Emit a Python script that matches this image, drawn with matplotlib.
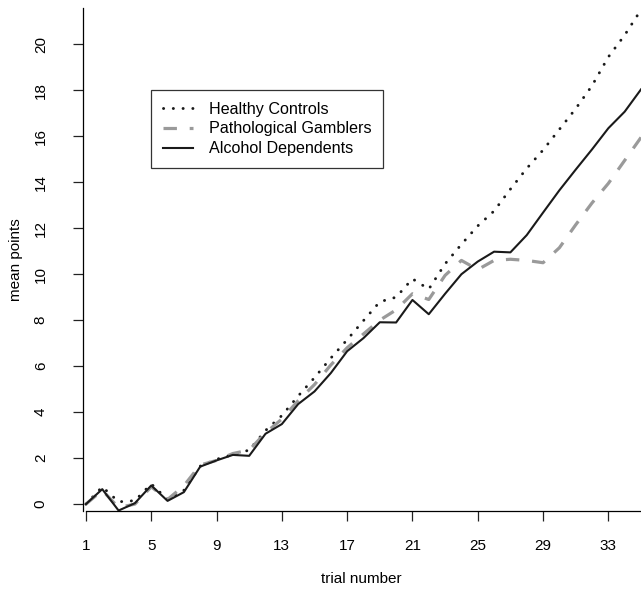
import numpy as np
import matplotlib
matplotlib.use("Agg")
import matplotlib.pyplot as plt


# ===================================================
# DATA
# ===================================================

trials = list(range(1, 36))

healthy = [0, 0.75, 0.1, 0.15, 0.88, 0.2, 0.6, 1.65, 1.95, 2.15,
           2.35, 3.2, 3.85, 4.7, 5.5, 6.35, 7.15, 7.98, 8.8, 9.0,
           9.8, 9.35, 10.45, 11.3, 12.1, 12.75, 13.7, 14.6, 15.4, 16.3,
           17.2, 18.2, 19.45, 20.4, 21.5]

gamblers = [0, 0.6, -0.15, 0.0, 0.75, 0.2, 0.8, 1.7, 1.9, 2.2,
            2.35, 3.1, 3.7, 4.5, 5.2, 6.05, 6.8, 7.4, 8.0, 8.45,
            9.15, 8.9, 9.95, 10.6, 10.2, 10.6, 10.65, 10.6, 10.5, 11.15,
            12.15, 13.1, 13.95, 14.95, 15.95]

alcohol = [0, 0.65, -0.28, 0.04, 0.81, 0.14, 0.52, 1.63, 1.9, 2.14,
           2.1, 3.06, 3.48, 4.35, 4.9, 5.7, 6.65, 7.22, 7.91, 7.9,
           8.88, 8.26, 9.15, 10.0, 10.55, 10.98, 10.95, 11.7, 12.68, 13.65,
           14.55, 15.43, 16.35, 17.07, 18.04]

x_ticks = [1, 5, 9, 13, 17, 21, 25, 29, 33]
y_ticks = [0, 2, 4, 6, 8, 10, 12, 14, 16, 18, 20]

labels = ["Healthy Controls", "Pathological Gamblers", "Alcohol Dependents"]


# ===================================================
# PLOT
# ===================================================

plt.rcParams["font.family"] = ["Liberation Sans", "DejaVu Sans"]
FS = 11
LEG_FS = 11.6

W, H = 641, 589
fig = plt.figure(figsize=(W / 100, H / 100), dpi=100)

# axes box in pixels: left spine ~82, bottom ~511, top ~8
left, right, top, bottom = 82.5, 641, 8, 511
ax = fig.add_axes([left / W, 1 - bottom / H, (right - left) / W, (bottom - top) / H])

ax.plot(trials, healthy, color="#1a1a1a", lw=2.1,
        linestyle=(0, (0.05, 3.3)), dash_capstyle="round", label=labels[0])
ax.plot(trials, gamblers, color="#9a9a9a", lw=2.3,
        linestyle=(0, (4.2, 4.0)), dash_capstyle="butt", label=labels[1])
ax.plot(trials, alcohol, color="#1a1a1a", lw=1.5, label=labels[2])

ax.set_xlim(0.79, 35)
ax.set_ylim(-0.3, 21.58)

ax.set_xticks(x_ticks)
ax.set_yticks(y_ticks)
ax.set_yticklabels([str(v) for v in y_ticks], rotation=90, va="center")

for side in ["top", "right"]:
    ax.spines[side].set_visible(False)
for side in ["left", "bottom"]:
    ax.spines[side].set_linewidth(0.9)
ax.spines["bottom"].set_bounds(1, 35)

ax.tick_params(length=7, width=0.9, labelsize=FS, color="#222222")
ax.tick_params(axis="x", pad=13)
ax.tick_params(axis="y", pad=18)

ax.set_xlabel("trial number", fontsize=FS, labelpad=14)
ax.set_ylabel("mean points", fontsize=FS, labelpad=8)

leg = ax.legend(loc="upper left", bbox_to_anchor=(151 / W, 1 - 90 / H),
                bbox_transform=fig.transFigure, frameon=True, fancybox=False,
                fontsize=LEG_FS, handlelength=1.9, handletextpad=0.95,
                borderpad=0.72, labelspacing=0.3, borderaxespad=0)
leg.get_frame().set_edgecolor("black")
leg.get_frame().set_linewidth(0.9)

fig.savefig("out.png", dpi=100)
